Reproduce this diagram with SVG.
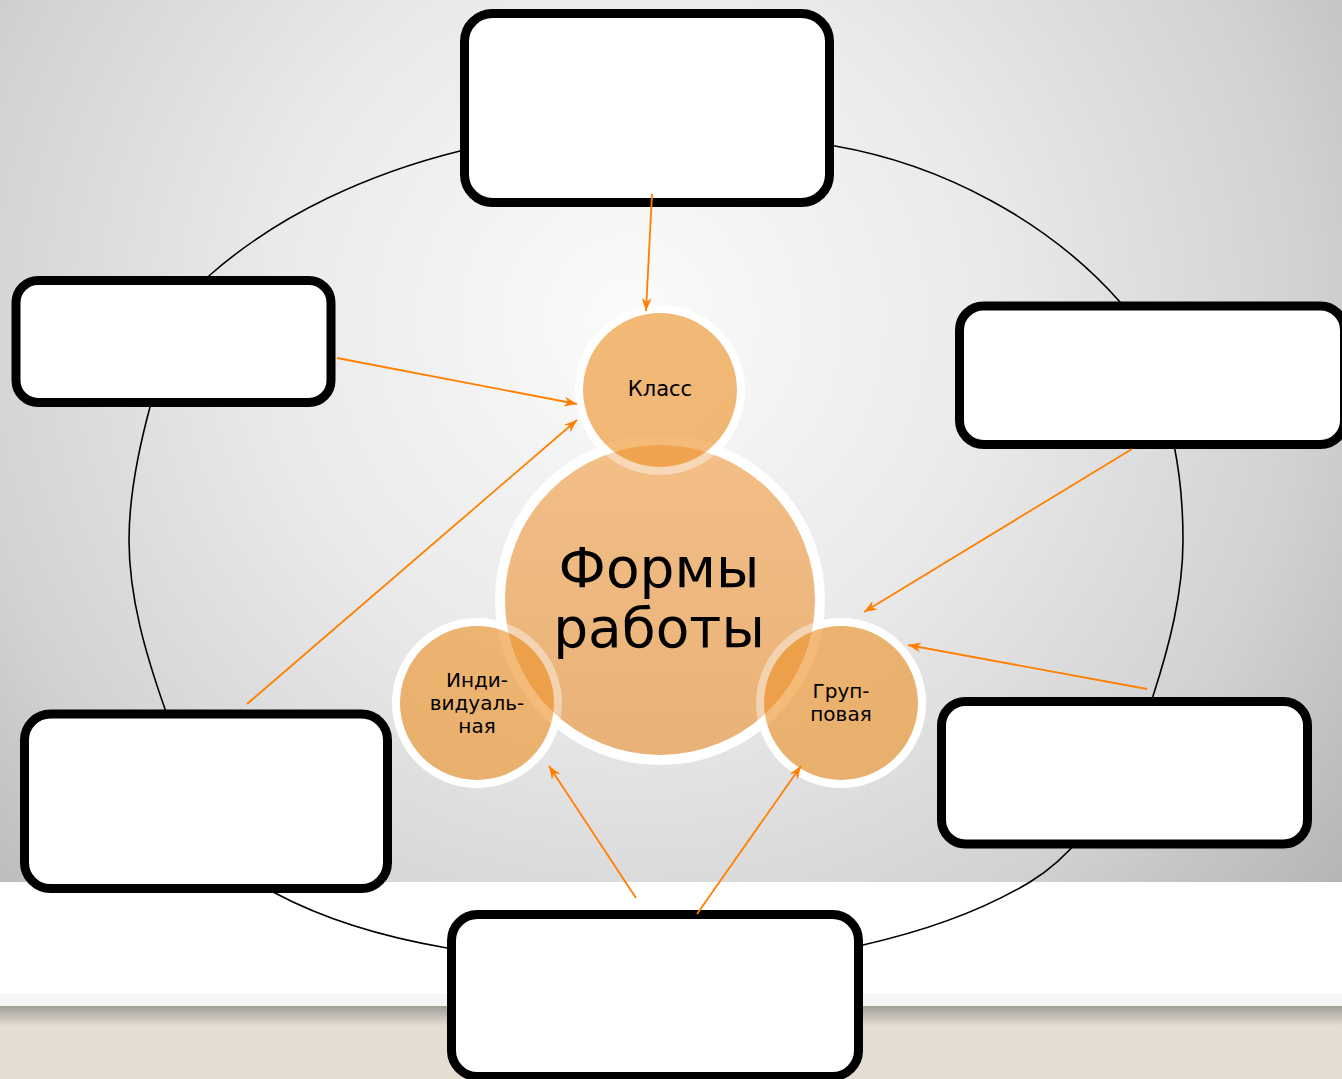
<svg xmlns="http://www.w3.org/2000/svg" width="1342" height="1079" viewBox="0 0 1342 1079">
<defs>
<radialGradient id="bg" cx="630" cy="320" r="900" gradientUnits="userSpaceOnUse">
<stop offset="0" stop-color="#fbfbfb"/>
<stop offset="0.4" stop-color="#eaeaea"/>
<stop offset="0.75" stop-color="#d2d2d2"/>
<stop offset="1" stop-color="#b6b6b6"/>
</radialGradient>
<linearGradient id="shadow" x1="0" y1="1006" x2="0" y2="1026" gradientUnits="userSpaceOnUse">
<stop offset="0" stop-color="#a29e96"/>
<stop offset="1" stop-color="#e3ddd2"/>
</linearGradient>
<linearGradient id="big" x1="0" y1="440" x2="0" y2="760" gradientUnits="userSpaceOnUse">
<stop offset="0" stop-color="#f3bf87"/>
<stop offset="1" stop-color="#e8b177"/>
</linearGradient>
<marker id="arr" markerWidth="13" markerHeight="10" refX="13" refY="5" orient="auto" markerUnits="userSpaceOnUse">
<path d="M0,0 L13,5 L0,10 L4,5 Z" fill="#ff8000"/>
</marker>
</defs>
<style>
.box{fill:#ffffff;stroke:#000000;stroke-width:9}
.ring{fill:none;stroke:#ffffff;stroke-width:8}
.small{fill:#ee9530;fill-opacity:0.65;stroke:none}
.sring{fill:none;stroke:#ffffff;stroke-opacity:0.4;stroke-width:8}
.con{stroke:#ff8000;stroke-width:1.8;fill:none;marker-end:url(#arr)}
.t{font-family:"DejaVu Sans",Verdana,sans-serif;fill:#000000;text-anchor:middle}
</style>
<g id="background">
<rect x="0" y="0" width="1342" height="882" fill="url(#bg)"/>
<rect x="0" y="882" width="1342" height="112" fill="#ffffff"/>
<rect x="0" y="994" width="1342" height="13" fill="#f6f6f6"/>
<rect x="0" y="1006" width="1342" height="73" fill="url(#shadow)"/>
<rect x="0" y="1026" width="1342" height="53" fill="#e3ddd2"/>
</g>
<g id="cycle">
<path d="M656,134 C716,134 775.9,135.8 835,146 C941.7,164.4 1048.5,220.8 1120,302 C1153.7,340.3 1163.8,395 1174,445 C1180.4,476.2 1183,508.2 1183,540 C1183,593 1169.4,645.6 1153,696 C1130,766.6 1093.9,843.4 1030,882 C978.8,912.9 921.1,931.9 863,945 C795.7,960.2 725,960 656,960 C586.3,960 515.7,959.8 447,948 C387.7,937.8 328,921.3 275,893 C212.1,859.4 188.6,776.2 165,709 C146,654.9 129,597.6 129,540 C129,495.1 138.3,450.3 150,407 C162.6,360.4 173.8,306.9 210,275 C279.8,213.6 369.8,173.3 460,151 C523.6,135.3 590.4,134 656,134 Z" fill="none" stroke="#000000" stroke-width="1.6"/>
</g>
<g id="box-top"><rect class="box" x="464.5" y="13.5" width="365" height="189" rx="28"/></g>
<g id="box-left"><rect class="box" x="16" y="280.5" width="315" height="122" rx="22"/></g>
<g id="box-right"><rect class="box" x="959.5" y="306" width="385" height="138.5" rx="24"/></g>
<g id="box-lower-right"><rect class="box" x="941.5" y="701.5" width="366" height="142.5" rx="24"/></g>
<g id="box-lower-left"><rect class="box" x="24.5" y="714" width="363" height="174.5" rx="26"/></g>
<g id="box-bottom"><rect class="box" x="451.5" y="914.5" width="407" height="162" rx="26"/></g>
<g id="underlay">
<circle class="ring" cx="660" cy="390" r="81"/>
<circle class="ring" cx="477" cy="703" r="81"/>
<circle class="ring" cx="841" cy="703" r="81"/>
</g>
<g id="center">
<circle cx="660" cy="600" r="160" fill="url(#big)" stroke="#ffffff" stroke-width="10"/>
<text class="t" x="659" y="587" font-size="55">Формы</text>
<text class="t" x="659" y="647" font-size="55">работы</text>
</g>
<g id="klass">
<circle class="small" cx="660" cy="390" r="77"/>
<circle class="sring" cx="660" cy="390" r="81"/>
<text class="t" x="660" y="396" font-size="21">Класс</text>
</g>
<g id="individual">
<circle class="small" cx="477" cy="703" r="77"/>
<circle class="sring" cx="477" cy="703" r="81"/>
<text class="t" x="477" y="687" font-size="20">Инди-</text>
<text class="t" x="477" y="710" font-size="20">видуаль-</text>
<text class="t" x="477" y="733" font-size="20">ная</text>
</g>
<g id="group">
<circle class="small" cx="841" cy="703" r="77"/>
<circle class="sring" cx="841" cy="703" r="81"/>
<text class="t" x="841" y="698" font-size="20">Груп-</text>
<text class="t" x="841" y="721" font-size="20">повая</text>
</g>
<g id="connectors">
<line class="con" x1="652" y1="194" x2="646" y2="311"/>
<line class="con" x1="337" y1="358" x2="577" y2="404"/>
<line class="con" x1="247" y1="704" x2="577" y2="420"/>
<line class="con" x1="1132" y1="449" x2="864" y2="612"/>
<line class="con" x1="1147" y1="689" x2="908" y2="645"/>
<line class="con" x1="636" y1="898" x2="549" y2="766"/>
<line class="con" x1="697" y1="914" x2="801" y2="766"/>
</g>
</svg>
